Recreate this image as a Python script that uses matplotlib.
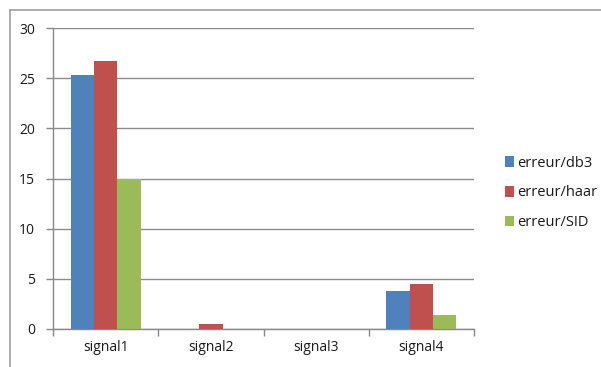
import matplotlib
matplotlib.use("Agg")
import matplotlib.pyplot as plt
import numpy as np
from matplotlib.lines import Line2D

categories = ["signal1", "signal2", "signal3", "signal4"]
series_names = ["erreur/db3", "erreur/haar", "erreur/SID"]
db3 = [25.3, 0.0, 0.0, 3.8]
haar = [26.7, 0.45, 0.0, 4.45]
sid = [15.0, 0.0, 0.0, 1.4]
yticks = [0, 5, 10, 15, 20, 25, 30]

colors = ["#4F81BD", "#C0504D", "#9BBB59"]

plt.rcParams['font.family'] = ['Open Sans', 'DejaVu Sans']

W, H = 601, 367
fig = plt.figure(figsize=(W / 100, H / 100), dpi=100)
ax = fig.add_axes([53 / W, (H - 329) / H, (474 - 53) / W, (329 - 28) / H])

x = np.arange(len(categories))
bw = 1 / 4.5
for i, (vals, name) in enumerate(zip([db3, haar, sid], series_names)):
    ax.bar(x + (i - 1) * bw, vals, width=bw, color=colors[i], label=name, zorder=3)

ax.set_xlim(-0.5, len(categories) - 0.5)
ax.set_ylim(0, 30)
ax.set_yticks(yticks)
ax.set_yticklabels([str(t) for t in yticks])
ax.set_xticks(x)
ax.set_xticklabels(categories)
ax.set_xticks(np.arange(len(categories) + 1) - 0.5, minor=True)
ax.tick_params(axis='x', which='major', length=0, pad=8, labelsize=10, colors='#1a1a1a')
ax.tick_params(axis='x', which='minor', length=5, width=1, color='#888888', direction='out')
ax.tick_params(axis='y', length=5, width=1, color='#888888', direction='out', labelsize=10, pad=8, labelcolor='#1a1a1a')
ax.yaxis.grid(True, color='#8c8c8c', linewidth=1, zorder=0)
ax.set_axisbelow(True)
for s in ['top', 'right']:
    ax.spines[s].set_visible(False)
for s in ['left', 'bottom']:
    ax.spines[s].set_color('#888888')
    ax.spines[s].set_linewidth(1)

leg = fig.legend(loc='upper left', bbox_to_anchor=(499 / W, (H - 150) / H), frameon=False,
                 fontsize=10.5, handlelength=0.6, handleheight=0.75, handletextpad=0.25,
                 labelspacing=1.0, borderaxespad=0, labelcolor='#1a1a1a')

# outer chart frame
fig.add_artist(Line2D([10 / W, 10 / W], [0, (H - 10) / H], transform=fig.transFigure, color='#a0a0a0', lw=1.2))
fig.add_artist(Line2D([10 / W, 1], [(H - 10) / H, (H - 10) / H], transform=fig.transFigure, color='#a0a0a0', lw=1.2))

fig.savefig("out.png", dpi=100)
